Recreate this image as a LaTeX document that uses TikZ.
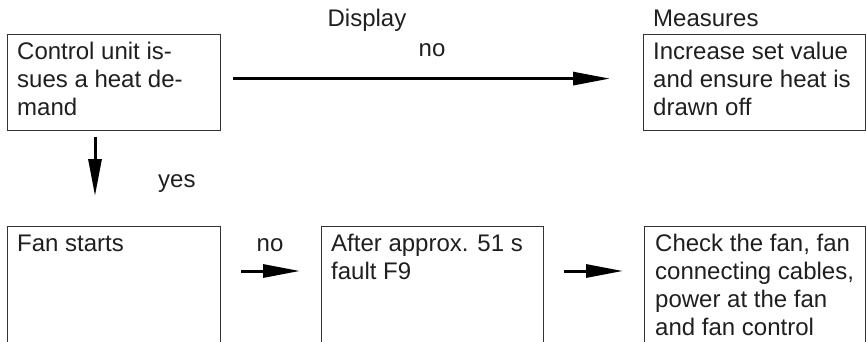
\documentclass[tikz,border=0pt]{standalone}
\usepackage{fontspec}
\setmainfont{Liberation Sans}
\usetikzlibrary{arrows.meta,calc}
\begin{document}
\begin{tikzpicture}[x=1pt,y=-1pt,
  box/.style={draw=black!80,line width=1.2pt,rectangle,inner sep=0pt},
  txt/.style={inner sep=0pt,align=left,text=black!88,font=\fontsize{24}{28}\selectfont},
  lbl/.style={inner sep=0pt,text=black!88,font=\fontsize{24}{28}\selectfont},
  arr/.style={line width=3pt,-{Triangle[length=37pt,width=13pt]}}]
\clip (0,0) rectangle (866,342);
\useasboundingbox (0,0) rectangle (866,342);
% boxes
\node[box,anchor=north west,minimum width=213pt,minimum height=96pt] (b1) at (7,34) {};
\node[box,anchor=north west,minimum width=222pt,minimum height=96pt] (b2) at (643,34) {};
\node[box,anchor=north west,minimum width=213pt,minimum height=160pt] (b3) at (7,226) {};
\node[box,anchor=north west,minimum width=222pt,minimum height=160pt] (b4) at (321,226) {};
\node[box,anchor=north west,minimum width=221pt,minimum height=160pt] (b5) at (644,226) {};
% texts
\node[txt,anchor=north west] (t1) at ($(b1.north west)+(10,0)$) {\rule{0pt}{25pt}Control unit is-\\sues a heat de-\\mand};
\node[txt,anchor=north west] (t2) at ($(b2.north west)+(10,0)$) {\rule{0pt}{25pt}Increase set value\\and ensure heat is\\drawn off};
\node[txt,anchor=north west] (t3) at ($(b3.north west)+(10,0)$) {\rule{0pt}{25pt}Fan starts};
\node[txt,anchor=north west] (t4) at ($(b4.north west)+(10,0)$) {\rule{0pt}{25pt}After approx. 51 s\\fault F9};
\node[txt,anchor=north west] (t5) at ($(b5.north west)+(11,0)$) {\rule{0pt}{25pt}Check the fan, fan\\connecting cables,\\power at the fan\\and fan control};
% labels
\node[lbl,anchor=base] (ldisp) at (367,27) {Display};
\node[lbl,anchor=base west] (lmeas) at (653,27) {Measures};
\node[lbl,anchor=base] (lno1) at (432,57) {no};
\node[lbl,anchor=base west] (lyes) at (158,187) {yes};
\node[lbl,anchor=base] (lno2) at (270,251) {no};
% arrows
\draw[arr] ($(b1.east)+(12,-4)$) -- ($(b2.west)+(-33,-4)$);
\draw[arr] ($(b1.south west)+(88,6)$) -- ($(b3.north west)+(88,-30)$);
\draw[arr] ($(b3.north east)+(20,45)$) -- ($(b4.north west)+(-21,45)$);
\draw[arr] ($(b4.north east)+(20,45)$) -- ($(b5.north west)+(-21,45)$);
\end{tikzpicture}
\end{document}
